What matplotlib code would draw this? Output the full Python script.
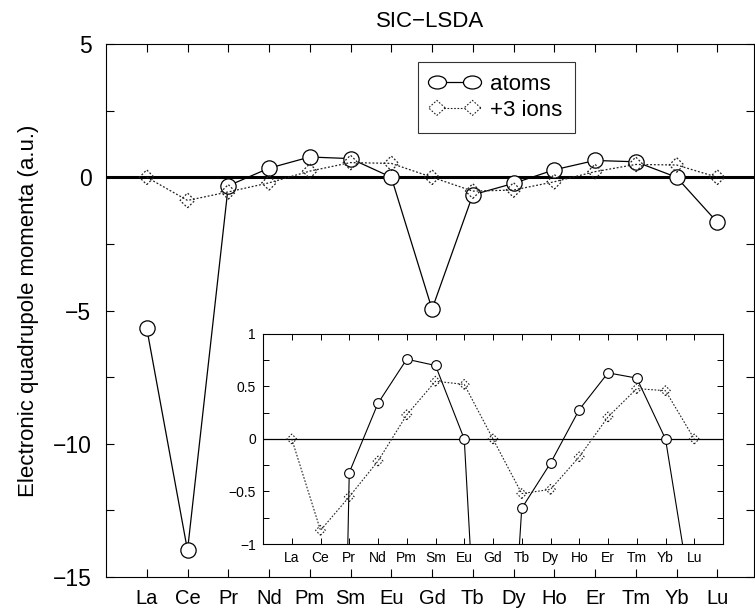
import matplotlib
matplotlib.use("Agg")
import matplotlib.pyplot as plt
import numpy as np
from matplotlib.legend_handler import HandlerTuple, HandlerPathCollection, HandlerLine2D
from matplotlib.ticker import MultipleLocator
from matplotlib.lines import Line2D
from matplotlib.path import Path

plt.rcParams['font.family'] = ['Liberation Sans', 'DejaVu Sans']

elements = ["La", "Ce", "Pr", "Nd", "Pm", "Sm", "Eu", "Gd", "Tb", "Dy", "Ho", "Er", "Tm", "Yb", "Lu"]
atoms = [-5.67, -14.0, -0.32, 0.34, 0.76, 0.70, 0.0, -4.95, -0.66, -0.23, 0.28, 0.63, 0.58, 0.0, -1.69]
ions = [0.0, -0.87, -0.55, -0.21, 0.23, 0.55, 0.52, 0.0, -0.52, -0.48, -0.17, 0.21, 0.48, 0.46, 0.0]
main_yticks = [-15, -10, -5, 0, 5]
main_yticklabels = ["\u221215", "\u221210", "\u22125", "0", "5"]
inset_yticks = [-1, -0.5, 0, 0.5, 1]
inset_yticklabels = ["\u22121", "\u22120.5", "0", "0.5", "1"]

x = np.arange(1, len(elements) + 1)
DOT = (0, (1.5, 1.5))

fig = plt.figure(figsize=(7.55, 6.15), dpi=100)
ax = fig.add_axes([106/755, 1-577/615, (754-106)/755, (577-44)/615])

def draw(a, ms_c, ms_d, lw, dot_lw):
    a.plot(x, atoms, '-', color='black', lw=lw, zorder=3,
           marker='o', ms=ms_c, mfc='white', mec='black', mew=lw)
    a.plot(x, ions, linestyle=DOT, color='#222222', lw=dot_lw, zorder=4)
    a.scatter(x, ions, marker='D', s=ms_d**2, facecolors='none', edgecolors='#222222',
              linewidths=dot_lw, linestyles=DOT, zorder=5)

draw(ax, 11, 7.5, 0.9, 0.9)
ax.axhline(0, color='black', lw=2.2, zorder=2)
ax.set_xlim(0, 15.9)
ax.set_ylim(-15, 5)
ax.set_xticks(x)
ax.set_xticklabels(elements, fontsize=14.5)
ax.set_yticks(main_yticks)
ax.set_yticklabels(main_yticklabels, fontsize=16.5)
ax.yaxis.set_minor_locator(MultipleLocator(2.5))
ax.tick_params(axis='both', which='both', direction='in', top=True, right=True,
               length=6, width=0.8)
ax.tick_params(axis='x', pad=9)
ax.tick_params(axis='y', pad=10.5)
ax.set_ylabel("Electronic quadrupole momenta (a.u.)", fontsize=16, labelpad=10)
ax.set_title("SIC\u2212LSDA", fontsize=16, pad=12)

# legend proxies with slightly wide markers, as in the reference
circ = Path.unit_circle()
ell_path = Path(circ.vertices * np.array([1.0, 0.72]), circ.codes)
dia_path = Path(np.array([[1.0, 0], [0, 0.9], [-1.0, 0], [0, -0.9], [1.0, 0]]),
                [Path.MOVETO, Path.LINETO, Path.LINETO, Path.LINETO, Path.CLOSEPOLY])
h_atoms = Line2D([], [], color='black', lw=0.9, marker=ell_path, ms=13, mfc='white',
                 mec='black', mew=0.9)
h_ions_line = Line2D([], [], color='#222222', lw=0.8, linestyle=DOT)
h_ions_mk = ax.scatter([-50, -50], [0, 0], marker=dia_path, s=12**2, facecolors='white',
                       edgecolors='#222222', linewidths=0.8, linestyles=DOT)
leg = ax.legend([h_atoms, (h_ions_line, h_ions_mk)], ["atoms", "+3 ions"],
                handler_map={tuple: HandlerTuple(ndivide=1, pad=0),
                             h_ions_line: HandlerLine2D(numpoints=2),
                             h_ions_mk: HandlerPathCollection(sizes=[12**2, 12**2],
                                                              numpoints=2,
                                                              yoffsets=[0.5, 0.5])},
                loc='upper left', bbox_to_anchor=((418-106)/648, 1-(62-44)/533),
                numpoints=2, scatterpoints=2,
                fontsize=16, frameon=True, fancybox=False, edgecolor='black',
                handlelength=2.2, handletextpad=0.5, borderpad=0.55, labelspacing=0.2,
                borderaxespad=0)
leg.get_frame().set_linewidth(0.8)

# inset
ins = fig.add_axes([263/755, 1-544/615, (723-263)/755, (544-334)/615])
draw(ins, 7, 5, 0.8, 0.8)
ins.axhline(0, color='black', lw=0.9, zorder=2)
ins.set_xlim(0, 16)
ins.set_ylim(-1, 1)
ins.set_xticks(x)
ins.set_xticklabels(elements, fontsize=10)
ins.set_yticks(inset_yticks)
ins.set_yticklabels(inset_yticklabels, fontsize=10)
ins.yaxis.set_minor_locator(MultipleLocator(0.25))
ins.tick_params(axis='both', which='both', direction='in', top=True, right=True,
                length=4, width=0.7, pad=5)

fig.savefig("out.png", dpi=100)
